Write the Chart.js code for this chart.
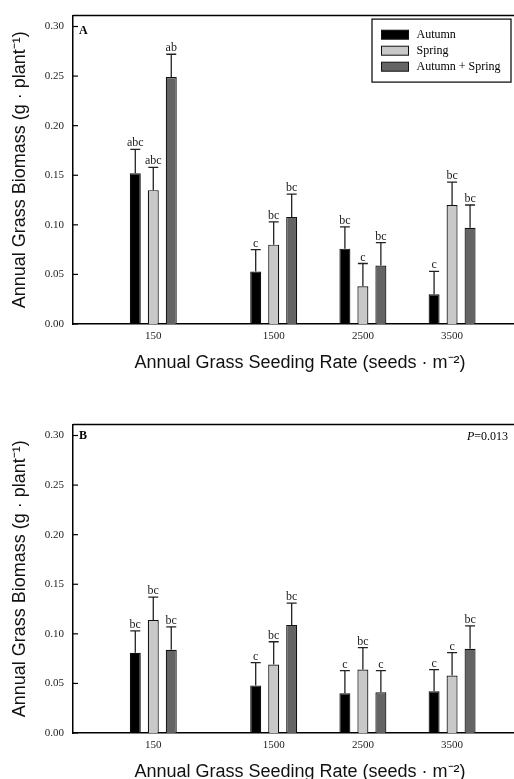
<!DOCTYPE html>
<html><head><meta charset="utf-8">
<script src="https://cdn.jsdelivr.net/npm/chart.js@4.4.1/dist/chart.umd.min.js"></script>
<style>
html,body{margin:0;padding:0;background:#fff;overflow:hidden;width:514px;height:779px;}
.panel{position:absolute;left:0;width:527px;height:409px;}
canvas{display:block;}
</style></head><body>
<div class="panel" style="top:0"><canvas id="cA" width="527" height="409"></canvas></div>
<div class="panel" style="top:409px"><canvas id="cB" width="527" height="409"></canvas></div>
<script>
// ---- data ----
const seedingRates = [150, 1500, 2500, 3500];
const seriesNames = ['Autumn', 'Spring', 'Autumn + Spring'];
const xTickValues = [150, 1500, 2500, 3500];
const yTickValues = [0, 0.05, 0.10, 0.15, 0.20, 0.25, 0.30];

// Panel A
const aAutumn = [0.152, 0.053, 0.076, 0.030];
const aSpring = [0.135, 0.080, 0.038, 0.120];
const aBoth   = [0.249, 0.108, 0.059, 0.097];
const aAutumnErr = [0.024, 0.022, 0.022, 0.023];
const aSpringErr = [0.023, 0.023, 0.023, 0.023];
const aBothErr   = [0.023, 0.023, 0.023, 0.023];
const aAutumnLetters = ['abc', 'c', 'bc', 'c'];
const aSpringLetters = ['abc', 'bc', 'c', 'bc'];
const aBothLetters   = ['ab', 'bc', 'bc', 'bc'];

// Panel B
const bAutumn = [0.081, 0.048, 0.040, 0.042];
const bSpring = [0.114, 0.069, 0.064, 0.058];
const bBoth   = [0.084, 0.109, 0.041, 0.085];
const bAutumnErr = [0.022, 0.023, 0.023, 0.022];
const bSpringErr = [0.023, 0.023, 0.022, 0.023];
const bBothErr   = [0.023, 0.022, 0.022, 0.023];
const bAutumnLetters = ['bc', 'c', 'c', 'c'];
const bSpringLetters = ['bc', 'bc', 'bc', 'c'];
const bBothLetters   = ['bc', 'bc', 'c', 'bc'];

// ---- styles ----
const fills = ['#000000', '#c8c8c8', '#646464'];
const SERIF = '"Liberation Serif", "Times New Roman", serif';
const SANS = '"Liberation Sans", Arial, sans-serif';

function ds(i, vals, errs, letters) {
  return {
    label: seriesNames[i],
    data: seedingRates.map((r, k) => ({x: r, y: vals[k]})),
    errors: errs,
    letters: letters,
    backgroundColor: fills[i],
    borderColor: '#111',
    borderWidth: 1.2,
    categoryPercentage: 0.605,
    barPercentage: 0.611
  };
}

const decor = {
  id: 'decor',
  afterDatasetsDraw(chart, args, o) {
    const ctx = chart.ctx, ca = chart.chartArea, ys = chart.scales.y;
    ctx.save();
    // error bars + letters
    chart.data.datasets.forEach((d, di) => {
      const meta = chart.getDatasetMeta(di);
      meta.data.forEach((bar, i) => {
        const v = d.data[i].y, e = d.errors[i];
        const yTop = ys.getPixelForValue(v + e);
        ctx.strokeStyle = '#222';
        ctx.lineWidth = 1.3;
        ctx.beginPath();
        ctx.moveTo(bar.x, bar.y);
        ctx.lineTo(bar.x, yTop);
        ctx.moveTo(bar.x - 5, yTop);
        ctx.lineTo(bar.x + 5, yTop);
        ctx.stroke();
        ctx.fillStyle = '#222';
        ctx.font = '12px ' + SERIF;
        ctx.textAlign = 'center';
        ctx.textBaseline = 'alphabetic';
        ctx.fillText(d.letters[i], bar.x, yTop - 3);
      });
    });
    // top frame line
    ctx.strokeStyle = '#000';
    ctx.lineWidth = 1.5;
    ctx.beginPath();
    ctx.moveTo(ca.left, ca.top);
    ctx.lineTo(ca.right, ca.top);
    ctx.stroke();
    // inward y ticks
    ctx.lineWidth = 1.2;
    ys.ticks.forEach(t => {
      const py = ys.getPixelForValue(t.value);
      ctx.beginPath();
      ctx.moveTo(ca.left, py);
      ctx.lineTo(ca.left + 5, py);
      ctx.stroke();
    });
    // panel letter
    ctx.fillStyle = '#000';
    ctx.font = 'bold 12px ' + SERIF;
    ctx.textAlign = 'left';
    ctx.textBaseline = 'middle';
    ctx.fillText(o.panel, ca.left + 6, ca.top + o.panelDy);
    // P value
    if (o.pText) {
      ctx.textAlign = 'right';
      ctx.font = '12px ' + SERIF;
      const rx = ca.right - 19, cy = ca.top + 12;
      const w2 = ctx.measureText(o.pText).width;
      ctx.fillText(o.pText, rx, cy);
      ctx.font = 'italic 12px ' + SERIF;
      ctx.fillText('P', rx - w2, cy);
    }
    // legend
    if (o.legend) {
      const bw = 139, bh = 63;
      const bx = ca.right - 16 - bw, by = ca.top + 3.5;
      ctx.fillStyle = '#fff';
      ctx.fillRect(bx, by, bw, bh);
      ctx.strokeStyle = '#000';
      ctx.lineWidth = 1.2;
      ctx.strokeRect(bx, by, bw, bh);
      chart.data.datasets.forEach((d, i) => {
        const cy = by + 15.6 + i * 16;
        ctx.fillStyle = d.backgroundColor;
        ctx.fillRect(bx + 9.5, cy - 4.5, 27, 9);
        ctx.strokeStyle = '#111';
        ctx.lineWidth = 1;
        ctx.strokeRect(bx + 9.5, cy - 4.5, 27, 9);
        ctx.fillStyle = '#000';
        ctx.font = '12px ' + SERIF;
        ctx.textAlign = 'left';
        ctx.textBaseline = 'middle';
        ctx.fillText(d.label, bx + 44.5, cy);
      });
    }
    ctx.restore();
  }
};

function makePanel(id, datasets, decorOpts) {
  return new Chart(document.getElementById(id), {
    type: 'bar',
    data: {datasets: datasets},
    plugins: [decor],
    options: {
      responsive: false,
      animation: false,
      devicePixelRatio: 1,
      layout: {padding: {top: 13, left: 0, right: 0, bottom: 0}},
      plugins: {legend: {display: false}, tooltip: {enabled: false}, decor: decorOpts},
      scales: {
        x: {
          type: 'linear',
          min: -750, max: 4340,
          offset: false,
          grid: {display: false, drawTicks: false},
          border: {display: true, color: '#000', width: 1.5},
          afterBuildTicks: s => { s.ticks = xTickValues.map(v => ({value: v})); },
          afterFit: s => { s.height = 85; },
          ticks: {
            autoSkip: false, maxRotation: 0, padding: 6, color: '#222',
            font: {family: SERIF, size: 11},
            callback: v => String(v)
          },
          title: {
            display: true, text: 'Annual Grass Seeding Rate (seeds · m⁻²)',
            color: '#111', font: {family: SANS, size: 18},
            padding: {top: 0, bottom: 35}
          }
        },
        y: {
          min: 0, max: 0.311,
          grid: {display: false, drawTicks: false},
          border: {display: true, color: '#000', width: 1.5},
          afterBuildTicks: s => { s.ticks = yTickValues.map(v => ({value: v})); },
          afterFit: s => { s.width = 73; },
          ticks: {
            padding: 9, color: '#222',
            font: {family: SERIF, size: 11},
            callback: v => Number(v).toFixed(2)
          },
          title: {
            display: true, text: 'Annual Grass Biomass (g · plant⁻¹)',
            color: '#111', font: {family: SANS, size: 18},
            padding: {top: 9, bottom: 0}
          }
        }
      }
    }
  });
}

makePanel('cA', [
  ds(0, aAutumn, aAutumnErr, aAutumnLetters),
  ds(1, aSpring, aSpringErr, aSpringLetters),
  ds(2, aBoth, aBothErr, aBothLetters)
], {panel: 'A', panelDy: 15, legend: true});

makePanel('cB', [
  ds(0, bAutumn, bAutumnErr, bAutumnLetters),
  ds(1, bSpring, bSpringErr, bSpringLetters),
  ds(2, bBoth, bBothErr, bBothLetters)
], {panel: 'B', panelDy: 11.5, pText: '=0.013'});
</script>
</body></html>
